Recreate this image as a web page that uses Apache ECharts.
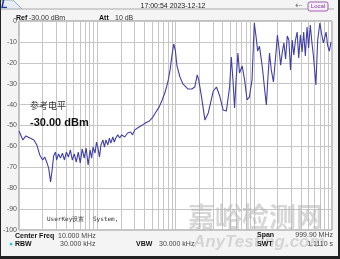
<!DOCTYPE html>
<html><head><meta charset="utf-8">
<script src="https://cdn.jsdelivr.net/npm/echarts@6/dist/echarts.min.js"></script>
<style>html,body{margin:0;padding:0;background:#f4f4f4;}#c{width:340px;height:259px;}</style>
</head><body><div id="c"></div>
<script>
// Trace: frequency (MHz, log sweep 100 kHz .. 1 GHz) and level (dBm)
const freqMHz = [0.100,0.112,0.1225,0.138,0.155,0.169,0.184,0.201,0.213,0.226,0.239,0.253,0.265,0.277,0.293,0.302,0.320,0.339,0.359,0.381,
0.403,0.428,0.453,0.480,0.509,0.539,0.572,0.606,0.642,0.681,0.721,0.764,0.810,0.846,0.884,0.937,0.978,1.022,1.068,1.115,
1.182,1.235,1.290,1.367,1.428,1.491,1.580,1.651,1.724,1.827,1.936,2.053,2.240,2.443,2.667,2.826,2.995,3.268,3.778,4.122,
4.631,5.052,5.512,6.191,6.756,7.371,8.044,8.522,9.032,9.49,9.94,10.44,11.40,12.43,14.38,16.16,17.62,18.95,19.79,21.60,
23.77,26.24,30.34,33.40,36.76,40.57,44.65,49.14,51.63,54.25,56.84,59.70,62.73,65.72,71.07,76.42,82.16,87.85,95.04,101.6,
106.8,112.2,118.2,125.2,130.8,136.7,144.9,151.2,159.0,167.5,178.5,193.7,200.6,210.1,220.7,231.9,242.9,255.3,268.2,281.0,
295.1,310.1,324.9,341.3,358.6,375.6,394.7,414.7,434.5,456.4,479.6,502.3,527.7,554.5,580.9,622.8,656.1,699.8,741.3,776.6,
840.2,877.4,924.6,971.4];
const levelDbm = [-52.6,-56.9,-55.0,-56.0,-56.9,-59.3,-64.1,-66.5,-65.1,-67.5,-70.3,-77.0,-71.3,-64.6,-62.7,-66.5,-63.6,-65.6,-63.2,-66.5,
-62.7,-65.1,-61.7,-66.5,-63.6,-67.5,-62.7,-67.9,-61.2,-65.6,-60.8,-68.9,-61.7,-65.6,-60.3,-63.2,-57.9,-60.8,-65.1,-59.3,
-56.9,-60.3,-56.9,-59.3,-56.0,-58.4,-55.5,-57.9,-56.0,-54.5,-56.0,-54.5,-55.5,-53.6,-53.1,-54.5,-52.2,-51.2,-49.8,-48.8,
-47.8,-46.4,-44.0,-41.1,-37.8,-34.0,-28.7,-23.4,-16.3,-11.0,-13.9,-21.5,-26.8,-30.1,-32.5,-32.5,-31.6,-25.8,-28.2,-36.8,
-47.4,-44.0,-33.5,-31.6,-35.9,-42.6,-43.1,-31.6,-17.2,-28.2,-41.6,-27.3,-15.3,-24.9,-21.5,-28.2,-37.8,-36.4,-28.2,-1.0,
-7.2,-14.4,-12.0,-18.7,-24.4,-31.6,-40.2,-28.2,-15.3,-23.4,-29.2,-13.9,-6.7,-12.9,-21.1,-14.8,-10.5,-18.2,-7.2,-9.1,
-23.4,-9.1,-16.3,-9.1,-5.3,-17.7,-6.7,-14.8,-5.3,-16.7,-2.9,-12.9,-1.9,-10.5,-17.2,-30.6,-9.1,-1.0,-6.7,-10.5,
-5.3,-11.5,-14.4,-10.0];
const yTicks = [0,-10,-20,-30,-40,-50,-60,-70,-80,-90,-100];
const decadesMHz = [0.1,1,10,100];
const minorMult = [2,3,4,5,6,7,8,9];
const minorGrid = [];
decadesMHz.forEach(d => minorMult.forEach(m => minorGrid.push(+(d*m).toPrecision(3))));

const gridColor = '#c6c6c6';
const chart = echarts.init(document.getElementById('c'), null, {renderer:'canvas'});
const txt = (x, y, text, font, fill, align) => ({
  type:'text', x:x, y:y, z:50,
  style:{text:text, font:font, fill:fill, textAlign:align||'left', textVerticalAlign:'middle'}
});
chart.setOption({
  animation:false,
  grid:{left:15, right:8, top:21, bottom:29, show:true, backgroundColor:'#ffffff', borderColor:'#8a8a8a', borderWidth:1},
  xAxis:{type:'log', logBase:10, min:0.1, max:1000,
    axisLabel:{show:false}, axisTick:{show:false}, axisLine:{show:false},
    splitLine:{show:true, lineStyle:{color:gridColor, width:1}}},
  yAxis:{type:'value', min:-100, max:0, interval:10,
    axisLabel:{fontSize:7, color:'#555', margin:2, fontFamily:'Liberation Sans',
      formatter:v => yTicks.includes(v) ? String(v) : ''},
    axisTick:{show:false}, axisLine:{show:false},
    splitLine:{show:true, lineStyle:{color:gridColor, width:1}}},
  series:[
    {type:'line', data:[], z:1, silent:true,
     markLine:{silent:true, symbol:'none', label:{show:false}, animation:false,
       lineStyle:{color:gridColor, type:'solid', width:1},
       data:minorGrid.map(v => ({xAxis:v}))}},
    {type:'line', z:5, showSymbol:false, symbol:'none',
     data:freqMHz.map((f,i) => [f, levelDbm[i]]),
     lineStyle:{color:'#4040a8', width:1.1}}
  ],
  graphic:[
    // header
    {type:'polygon', z:40, shape:{points:[[0,0],[13,0],[22,9],[0,9]]}, style:{fill:'#e8eef8', stroke:'#9aa'}},
    {type:'line', z:40, shape:{x1:22,y1:9,x2:334,y2:9}, style:{stroke:'#aaa', lineWidth:1}},
    txt(1, 5, 'L', 'italic bold 11px Liberation Sans', '#1f3c9c'),
    txt(173, 6, '17:00:54 2023-12-12', '7px Liberation Sans', '#222', 'center'),
    txt(299, 6, '⇠', '9px DejaVu Sans', '#777', 'center'),
    {type:'rect', z:40, shape:{x:308, y:2, width:20, height:9, r:2}, style:{fill:'#f6eef8', stroke:'#a060b0', lineWidth:1}},
    txt(318, 6.5, 'Local', '6px Liberation Sans', '#8a3c9a', 'center'),
    txt(16, 18, 'Ref', 'bold 7px Liberation Sans', '#111'),
    txt(29, 18, '-30.00 dBm', '7px Liberation Sans', '#333'),
    txt(99, 18, 'Att', 'bold 7px Liberation Sans', '#111'),
    txt(115, 18, '10 dB', '7px Liberation Sans', '#333'),
    // in-plot annotations
    txt(30, 106, '参考电平', '9px Noto Sans CJK SC', '#333'),
    txt(30, 123, '-30.00 dBm', 'bold 11px Liberation Sans', '#111'),
    txt(47, 219, 'UserKey设置', '6px DejaVu Sans Mono', '#333'),
    txt(93, 219, 'System,', '6px DejaVu Sans Mono', '#333'),
    // watermark
    txt(188, 217, '嘉峪检测网', 'bold 27px Noto Sans CJK SC', 'rgba(175,175,175,0.5)'),
    txt(193, 242, 'AnyTesting.com', 'italic bold 17px Liberation Sans', 'rgba(175,175,175,0.45)'),
    // footer
    txt(15, 236, 'Center Freq', 'bold 7px Liberation Sans', '#111'),
    txt(58, 236, '10.000 MHz', '7px Liberation Sans', '#444'),
    {type:'circle', z:40, shape:{cx:11, cy:244, r:1.5}, style:{fill:'#3cc8e0'}},
    txt(15, 244, 'RBW', 'bold 7px Liberation Sans', '#111'),
    txt(60, 244, '30.000 kHz', '7px Liberation Sans', '#444'),
    txt(136, 244, 'VBW', 'bold 7px Liberation Sans', '#111'),
    txt(159, 244, '30.000 kHz', '7px Liberation Sans', '#444'),
    txt(257, 235, 'Span', 'bold 7px Liberation Sans', '#111'),
    txt(333, 235, '999.90 MHz', '7px Liberation Sans', '#444', 'right'),
    txt(257, 244, 'SWT', 'bold 7px Liberation Sans', '#111'),
    txt(333, 244, '1.1110 s', '7px Liberation Sans', '#444', 'right'),
    // outer frame
    {type:'rect', z:60, shape:{x:0, y:0, width:1, height:259}, style:{fill:'#222'}},
    {type:'rect', z:60, shape:{x:338, y:0, width:2, height:259}, style:{fill:'#222'}},
    {type:'rect', z:60, shape:{x:0, y:256, width:340, height:3}, style:{fill:'#222'}}
  ]
});
</script></body></html>
